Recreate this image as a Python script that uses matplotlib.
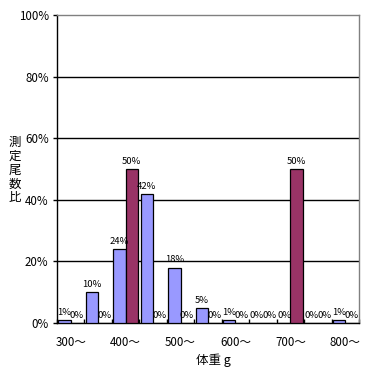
import matplotlib
matplotlib.use("Agg")
import matplotlib.pyplot as plt
import numpy as np
from matplotlib.ticker import FixedLocator

plt.rcParams['font.family'] = ['Noto Sans CJK JP', 'DejaVu Sans']

categories = ["300〜", "350〜", "400〜", "450〜", "500〜", "550〜",
              "600〜", "650〜", "700〜", "750〜", "800〜"]
series_a = [1, 10, 24, 42, 18, 5, 1, 0, 0, 0, 1]
series_b = [0, 0, 50, 0, 0, 0, 0, 0, 50, 0, 0]
yticks = [0, 20, 40, 60, 80, 100]

fig = plt.figure(figsize=(3.67, 3.67), dpi=100)
ax = fig.add_axes([57/367, 44/367, (359-57)/367, (323-15)/367])

n = len(categories)
x = np.arange(n)
w = 0.455
ax.bar(x - w/2, series_a, width=w, color='#9999FF', edgecolor='black', linewidth=0.9, zorder=3)
ax.bar(x + w/2, series_b, width=w, color='#993366', edgecolor='black', linewidth=0.9, zorder=3)

fs = 6.8
tfs = 8.3
for i in range(n):
    ax.text(x[i] - w/2, series_a[i] + 1.0, f"{series_a[i]}%", ha='center', va='bottom', fontsize=fs, zorder=4)
    ax.text(x[i] + w/2, series_b[i] + 1.0, f"{series_b[i]}%", ha='center', va='bottom', fontsize=fs, zorder=4)

ax.set_xlim(-0.5, n - 0.5)
ax.set_ylim(0, 100)
ax.set_yticks(yticks)
ax.set_yticklabels([f"{v}%" for v in yticks], fontsize=tfs)
for v in yticks[1:-1]:
    ax.axhline(v, color='black', linewidth=1.0, zorder=1)

# x ticks: labels every other category, tick marks at boundaries
ax.set_xticks(x[::2])
ax.set_xticklabels(categories[::2], fontsize=tfs)
ax.tick_params(axis='x', length=0, pad=9)
ax.xaxis.set_minor_locator(FixedLocator(np.arange(n + 1) - 0.5))
ax.tick_params(axis='x', which='minor', direction='in', length=3, width=1, color='black')
ax.tick_params(axis='y', direction='out', length=3, width=1, color='black', pad=3)

ax.spines['left'].set_color('black')
ax.spines['bottom'].set_color('black')
ax.spines['top'].set_color('#808080')
ax.spines['right'].set_color('#808080')
for s in ax.spines.values():
    s.set_linewidth(1.0)

ax.set_xlabel("体重 g", fontsize=tfs + 0.7, labelpad=0)
ax.xaxis.set_label_coords((213-57)/(359-57), -(353-323)/(323-15))
fig.text(15/367, 1 - 170/367, "測\n定\n尾\n数\n比", ha='center', va='center', fontsize=tfs + 0.7, linespacing=1.1)

fig.savefig("out.png", dpi=100, facecolor='white')
